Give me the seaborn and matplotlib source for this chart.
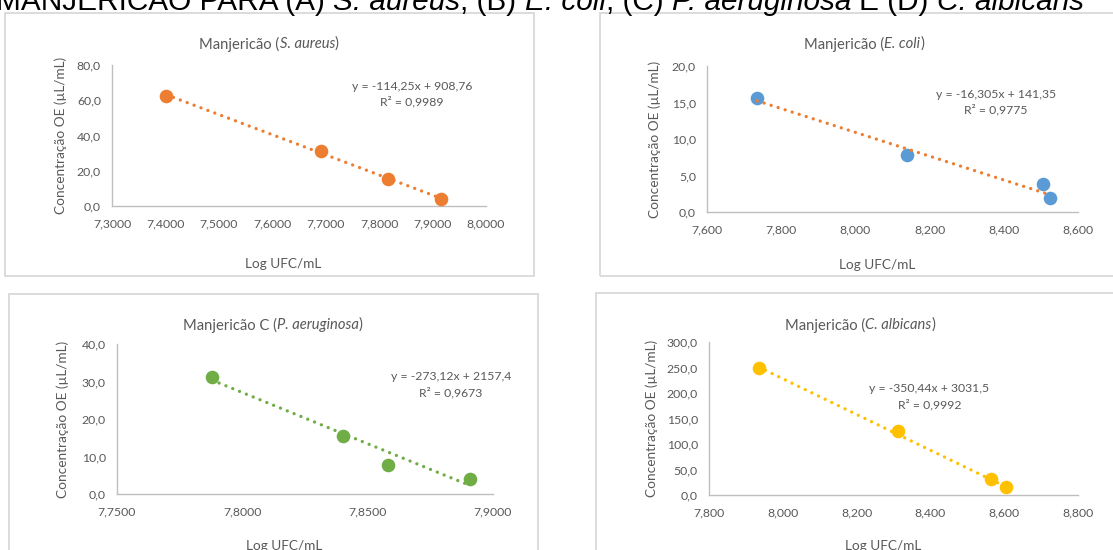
import matplotlib
matplotlib.use("Agg")
import matplotlib.pyplot as plt
from matplotlib.patches import Rectangle
from matplotlib.ticker import FixedLocator, FuncFormatter
import seaborn as sns

# ---------------- data ----------------
sa_log = [7.402, 7.692, 7.817, 7.916]
sa_conc = [62.5, 31.25, 15.6, 3.9]
ec_log = [7.735, 8.140, 8.505, 8.525]
ec_conc = [15.6, 7.8, 3.9, 1.95]
pa_log = [7.788, 7.840, 7.858, 7.891]
pa_conc = [31.25, 15.6, 7.8, 3.9]
ca_log = [7.935, 8.312, 8.565, 8.606]
ca_conc = [250.0, 125.0, 31.25, 15.6]

# linear trendlines: slope, intercept, R²
sa_fit = (-114.25, 908.76, 0.9989)
ec_fit = (-16.305, 141.35, 0.9775)
pa_fit = (-273.12, 2157.4, 0.9673)
ca_fit = (-350.44, 3031.5, 0.9992)

sa_xticks = [7.3, 7.4, 7.5, 7.6, 7.7, 7.8, 7.9, 8.0]
sa_yticks = [0, 20, 40, 60, 80]
ec_xticks = [7.6, 7.8, 8.0, 8.2, 8.4, 8.6]
ec_yticks = [0, 5, 10, 15, 20]
pa_xticks = [7.75, 7.80, 7.85, 7.90]
pa_yticks = [0, 10, 20, 30, 40]
ca_xticks = [7.8, 8.0, 8.2, 8.4, 8.6, 8.8]
ca_yticks = [0, 50, 100, 150, 200, 250, 300]

header_parts = [("MANJERICÃO PARA (A) ", "normal"), ("S. aureus", "italic"),
                (", (B) ", "normal"), ("E. coli", "italic"),
                (", (C) ", "normal"), ("P. aeruginosa", "italic"),
                (" E (D) ", "normal"), ("C. albicans", "italic")]

x_title = "Log UFC/mL"
y_title = "Concentração OE (µL/mL)"

# ---------------- style ----------------
sns.set_theme(style="white")
FONT = "Lato"
plt.rcParams["font.family"] = [FONT, "DejaVu Sans"]
TXT = "#595959"
AXIS = "#BFBFBF"
BORDER = "#D9D9D9"
ORANGE = "#ED7D31"
BLUE = "#5B9BD5"
GREEN = "#70AD47"
GOLD = "#FFC000"

W, H = 1113, 550
fig = plt.figure(figsize=(W / 100, H / 100), dpi=100)
fig.patch.set_facecolor("white")


def fx(px):
    return px / W


def fy(py):
    return 1 - py / H


def rich_text(cx, cy, parts, size, family, color, ha="center", va="center"):
    """Lay out a run of text pieces with mixed upright / italic styles."""
    r = fig.canvas.get_renderer()

    def width(s, style):
        t = fig.text(0, 0, s, fontsize=size, family=family, style=style)
        w = t.get_window_extent(r).width
        t.remove()
        return w

    items, total = [], 0.0
    for s, style in parts:
        sp = width("x x", style) - width("xx", style)
        lead = (len(s) - len(s.lstrip(" "))) * sp
        trail = (len(s) - len(s.rstrip(" "))) * sp
        core = s.strip(" ")
        w = width(core, style)
        items.append((core, style, lead, w, trail))
        total += lead + w + trail
    x = cx - total / 2 if ha == "center" else cx
    for core, style, lead, w, trail in items:
        x += lead
        fig.text(fx(x), fy(cy), core, fontsize=size, family=family,
                 style=style, color=color, ha="left", va=va)
        x += w + trail


def comma(v, dec):
    return f"{v:.{dec}f}".replace(".", ",")


def decimals(v):
    return len(str(v).split(".")[1])


panels = [
    dict(x=sa_log, y=sa_conc, fit=sa_fit, mc=ORANGE, lc=ORANGE,
         title=[("Manjericão (", "normal"), ("S. aureus", "italic"), (")", "normal")],
         xticks=sa_xticks, xdec=4, yticks=sa_yticks,
         box=(4.5, 534, 12.5, 276), ax=(112, 486, 65, 206),
         tpos=(269, 44), eq=(412, 86), xl=(283, 264), yl=(61, 135.5)),
    dict(x=ec_log, y=ec_conc, fit=ec_fit, mc=BLUE, lc=ORANGE,
         title=[("Manjericão (", "normal"), ("E. coli", "italic"), (")", "normal")],
         xticks=ec_xticks, xdec=3, yticks=ec_yticks,
         box=(600, 1140, 12.5, 276), ax=(707, 1078, 66, 212),
         tpos=(864, 44), eq=(996, 94), xl=(877, 265), yl=(655, 139)),
    dict(x=pa_log, y=pa_conc, fit=pa_fit, mc=GREEN, lc=GREEN,
         title=[("Manjericão C (", "normal"), ("P. aeruginosa", "italic"), (")", "normal")],
         xticks=pa_xticks, xdec=4, yticks=pa_yticks,
         box=(8.5, 537.5, 293.5, 580), ax=(117, 493, 344, 494),
         tpos=(273, 325), eq=(451, 377), xl=(284, 546), yl=(62.5, 419)),
    dict(x=ca_log, y=ca_conc, fit=ca_fit, mc=GOLD, lc=GOLD,
         title=[("Manjericão (", "normal"), ("C. albicans", "italic"), (")", "normal")],
         xticks=ca_xticks, xdec=3, yticks=ca_yticks,
         box=(596, 1140, 293, 580), ax=(709, 1078, 342, 495),
         tpos=(860, 325), eq=(929.5, 389), xl=(883, 546), yl=(652, 418.5)),
]

for p in panels:
    x0, x1, y0, y1 = p["box"]
    fig.add_artist(Rectangle((fx(x0), fy(y1)), (x1 - x0) / W, (y1 - y0) / H,
                             transform=fig.transFigure, fill=False,
                             edgecolor=BORDER, linewidth=1.3))

    l, r, t, b = p["ax"]
    ax = fig.add_axes([fx(l), fy(b), (r - l) / W, (b - t) / H])
    ax.set_facecolor("none")

    slope, icpt, r2 = p["fit"]
    xs = [min(p["x"]), max(p["x"])]
    ys = [slope * v + icpt for v in xs]

    sns.scatterplot(x=p["x"], y=p["y"], ax=ax, color=p["mc"], s=96,
                    linewidth=0, zorder=3, clip_on=False)
    sns.lineplot(x=xs, y=ys, ax=ax, color=p["lc"], linewidth=2.4,
                 linestyle=(0, (0.01, 2.2)), dash_capstyle="round",
                 zorder=4, errorbar=None)

    ax.set_xlim(p["xticks"][0], p["xticks"][-1])
    ax.set_ylim(p["yticks"][0], p["yticks"][-1])
    ax.xaxis.set_major_locator(FixedLocator(p["xticks"]))
    ax.yaxis.set_major_locator(FixedLocator(p["yticks"]))
    xd = p["xdec"]
    ax.xaxis.set_major_formatter(FuncFormatter(lambda v, _, d=xd: comma(v, d)))
    ax.yaxis.set_major_formatter(FuncFormatter(lambda v, _: comma(v, 1)))
    ax.tick_params(length=0, labelsize=8.8, labelcolor=TXT)
    ax.tick_params(axis="y", pad=8)
    ax.tick_params(axis="x", pad=9)
    ax.set_xlabel("")
    ax.set_ylabel("")
    for side in ("top", "right"):
        ax.spines[side].set_visible(False)
    for side in ("left", "bottom"):
        ax.spines[side].set_color(AXIS)
        ax.spines[side].set_linewidth(1.0)
    ax.grid(False)

    rich_text(p["tpos"][0], p["tpos"][1], p["title"], 10.6, FONT, TXT)
    ex, ey = p["eq"]
    fig.text(fx(ex), fy(ey),
             f"y = {comma(slope, decimals(slope))}x + {comma(icpt, decimals(icpt))}",
             fontsize=8.8, color=TXT, ha="center", va="center")
    fig.text(fx(ex), fy(ey + 16), f"R² = {comma(r2, 4)}",
             fontsize=8.8, color=TXT, ha="center", va="center")
    fig.text(fx(p["xl"][0]), fy(p["xl"][1]), x_title, fontsize=9.8,
             color=TXT, ha="center", va="center")
    fig.text(fx(p["yl"][0]), fy(p["yl"][1]), y_title, fontsize=9.8,
             color=TXT, ha="center", va="center", rotation=90)

rich_text(-4, 9.5, header_parts, 21.4, "Liberation Sans", "#000000",
          ha="left", va="baseline")

fig.savefig("out.png", dpi=100, facecolor="white")
